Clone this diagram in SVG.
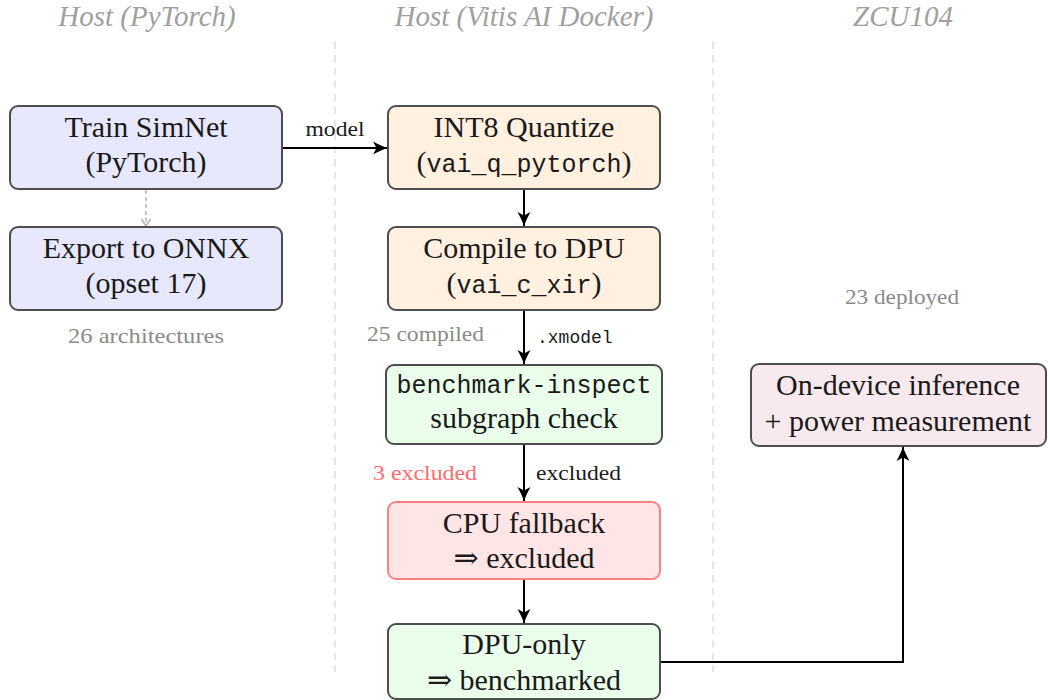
<svg xmlns="http://www.w3.org/2000/svg" width="1048" height="700" viewBox="0 0 1048 700">
<style>
  text { font-family: "Liberation Serif", "DejaVu Serif", serif; }
  .hdr { font-size: 29px; font-style: italic; fill: #a0a0a0; text-anchor: middle; }
  .lane { stroke: #d9d9d9; stroke-width: 1.3; stroke-dasharray: 7 6; fill: none; }
  .box { stroke: #4d4d4d; stroke-width: 2; }
  .blue { fill: #e8e8fc; }
  .orange { fill: #fff0e0; }
  .green { fill: #eafdea; }
  .red { fill: #ffe5e5; stroke: #ff8080; }
  .pink { fill: #f8e9ee; }
  .t { font-size: 30px; fill: #1a1a1a; text-anchor: middle; }
  .mono { font-family: "Liberation Mono", "DejaVu Sans Mono", monospace; font-size: 25px; }
  .lbl { font-size: 21px; fill: #1a1a1a; }
  .ann { font-size: 21px; fill: #8a8a8a; }
  .exc { font-size: 21px; fill: #ff6b6b; }
  .edge { stroke: #000; stroke-width: 2; fill: none; }
  .gedge { stroke: #b3b3b3; stroke-width: 1.5; fill: none; stroke-dasharray: 4 3; }
</style>
<defs>
  <marker id="ah" markerUnits="userSpaceOnUse" markerWidth="18" markerHeight="16" refX="15" refY="8" orient="auto">
    <path d="M15,8 C11.5,6.8 6,4.2 1,1.5 L4.5,8 L1,14.5 C6,11.8 11.5,9.2 15,8 Z" fill="#000"/>
  </marker>
  <marker id="gah" markerUnits="userSpaceOnUse" markerWidth="12" markerHeight="12" refX="9" refY="6" orient="auto">
    <path d="M2,1.5 L9,6 L2,10.5" fill="none" stroke="#b3b3b3" stroke-width="1.5"/>
  </marker>
</defs>

<g id="lanes">
  <text class="hdr" x="147" y="26">Host (PyTorch)</text>
  <text class="hdr" x="524" y="26">Host (Vitis AI Docker)</text>
  <text class="hdr" x="903" y="26">ZCU104</text>
  <line class="lane" x1="335" y1="42" x2="335" y2="672"/>
  <line class="lane" x1="713" y1="42" x2="713" y2="672"/>
</g>

<g id="connectors">
  <line class="edge" x1="283" y1="148" x2="387" y2="148" marker-end="url(#ah)"/>
  <line class="gedge" x1="146" y1="190" x2="146" y2="226" marker-end="url(#gah)"/>
  <line class="edge" x1="524" y1="190" x2="524" y2="226" marker-end="url(#ah)"/>
  <line class="edge" x1="524" y1="311" x2="524" y2="364" marker-end="url(#ah)"/>
  <line class="edge" x1="524" y1="445" x2="524" y2="501" marker-end="url(#ah)"/>
  <line class="edge" x1="524" y1="580" x2="524" y2="623" marker-end="url(#ah)"/>
  <path class="edge" d="M661,662 H903 V447" marker-end="url(#ah)"/>
  <text class="lbl" x="335" y="136" text-anchor="middle" textLength="59" lengthAdjust="spacingAndGlyphs">model</text>
  <text class="lbl mono" x="537" y="343" style="font-size:18px">.xmodel</text>
  <text class="lbl" x="536" y="480" textLength="85" lengthAdjust="spacingAndGlyphs">excluded</text>
</g>

<g id="annotations">
  <text class="ann" x="146" y="343" text-anchor="middle" textLength="156" lengthAdjust="spacingAndGlyphs">26 architectures</text>
  <text class="ann" x="484" y="341" text-anchor="end" textLength="117" lengthAdjust="spacingAndGlyphs">25 compiled</text>
  <text class="exc" x="373" y="480" textLength="104" lengthAdjust="spacingAndGlyphs">3 excluded</text>
  <text class="ann" x="902" y="304" text-anchor="middle" textLength="114" lengthAdjust="spacingAndGlyphs">23 deployed</text>
</g>

<g id="train">
  <rect class="box blue" x="10" y="106" width="272" height="83" rx="8"/>
  <text class="t" x="146" y="137">Train SimNet</text>
  <text class="t" x="146" y="172">(PyTorch)</text>
</g>

<g id="export">
  <rect class="box blue" x="10" y="227" width="272" height="83" rx="8"/>
  <text class="t" x="146" y="258">Export to ONNX</text>
  <text class="t" x="146" y="293">(opset 17)</text>
</g>

<g id="quantize">
  <rect class="box orange" x="388" y="106" width="272" height="83" rx="8"/>
  <text class="t" x="524" y="137">INT8 Quantize</text>
  <text class="t" x="524" y="172">(<tspan class="mono">vai_q_pytorch</tspan>)</text>
</g>

<g id="compile">
  <rect class="box orange" x="388" y="227" width="272" height="83" rx="8"/>
  <text class="t" x="524" y="258">Compile to DPU</text>
  <text class="t" x="524" y="293">(<tspan class="mono">vai_c_xir</tspan>)</text>
</g>

<g id="inspect">
  <rect class="box green" x="386" y="365" width="276" height="79" rx="8"/>
  <text class="t mono" x="524" y="393">benchmark-inspect</text>
  <text class="t" x="524" y="428">subgraph check</text>
</g>

<g id="fallback">
  <rect class="box red" x="388" y="502" width="272" height="77" rx="8"/>
  <text class="t" x="524" y="533">CPU fallback</text>
  <text class="t" x="524" y="568">⇒ excluded</text>
</g>

<g id="dpuonly">
  <rect class="box green" x="388" y="624" width="272" height="75" rx="8"/>
  <text class="t" x="524" y="654">DPU-only</text>
  <text class="t" x="524" y="690">⇒ benchmarked</text>
</g>

<g id="ondevice">
  <rect class="box pink" x="751" y="364" width="295" height="82" rx="8"/>
  <text class="t" x="898" y="395">On-device inference</text>
  <text class="t" x="898" y="431">+ power measurement</text>
</g>
</svg>
